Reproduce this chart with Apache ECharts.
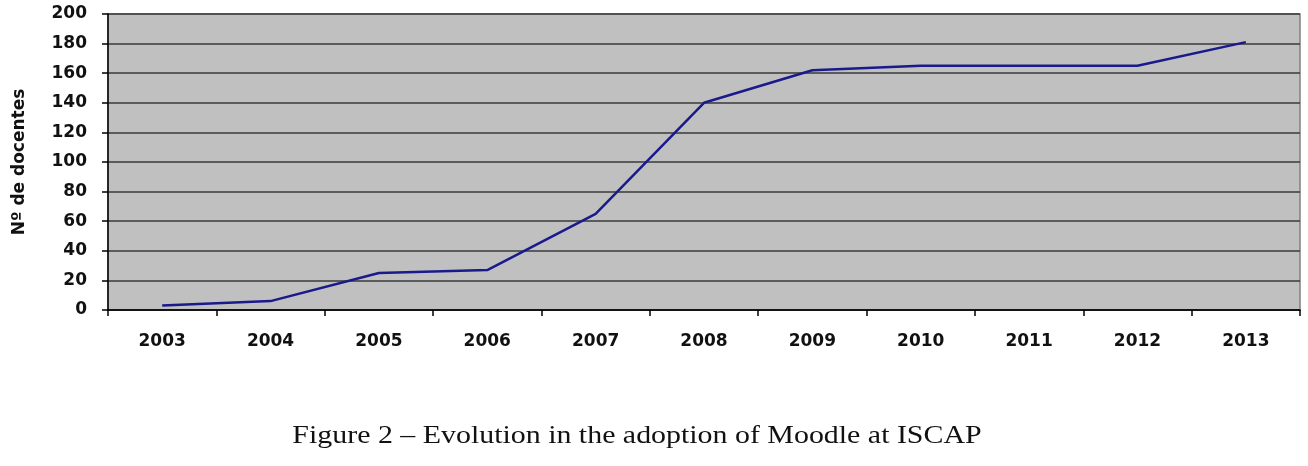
<!DOCTYPE html>
<html lang="en">
<head>
  <meta charset="UTF-8">
  <title>Evolution in the adoption of Moodle at ISCAP</title>
  <script src="https://cdn.jsdelivr.net/npm/echarts@6/dist/echarts.min.js"></script>
  <style>
    html, body { margin: 0; padding: 0; background: #fff; }
    #chart { width: 1308px; height: 466px; }
  </style>
</head>
<body>
<div id="chart"></div>
<script>
  // values
  let years = ['2003', '2004', '2005', '2006', '2007', '2008', '2009', '2010', '2011', '2012', '2013'];
  let docentes = [3, 6, 25, 27, 65, 140, 162, 165, 165, 165, 181];
  let caption = 'Figure 2 \u2013 Evolution in the adoption of Moodle at ISCAP';

  let chart = echarts.init(document.getElementById('chart'));
  chart.setOption({
    animation: false,
    // caption of the figure, slightly wide like the scanned original
    graphic: [{
      type: 'text',
      x: 637,
      y: 436,
      scaleX: 1.15,
      style: {
        text: caption,
        align: 'center',
        verticalAlign: 'middle',
        font: '26px "Liberation Serif"',
        fill: '#111'
      }
    }],
    grid: {
      left: 108,
      right: 8,
      top: 14,
      bottom: 156,
      show: true,
      backgroundColor: '#c0c0c0',
      borderColor: '#808080',
      borderWidth: 1.5
    },
    xAxis: {
      type: 'category',
      data: years,
      boundaryGap: true,
      axisLine: { lineStyle: { color: '#000', width: 1.5 } },
      axisTick: { show: true, length: 6, lineStyle: { color: '#000', width: 1.5 } },
      axisLabel: {
        margin: 23,
        fontFamily: 'DejaVu Sans',
        fontWeight: 'bold',
        fontSize: 17,
        color: '#111'
      },
      splitLine: { show: false }
    },
    yAxis: {
      type: 'value',
      min: 0,
      max: 200,
      interval: 20,
      name: 'N\u00ba de docentes',
      nameLocation: 'middle',
      nameRotate: 90,
      nameGap: 80,
      nameTextStyle: {
        fontFamily: 'DejaVu Sans',
        fontWeight: 'bold',
        fontSize: 17,
        color: '#111'
      },
      axisLine: { show: true, lineStyle: { color: '#000', width: 1.5 } },
      axisTick: { show: true, length: 6, lineStyle: { color: '#000', width: 1.5 } },
      axisLabel: {
        margin: 21,
        fontFamily: 'DejaVu Sans',
        fontWeight: 'bold',
        fontSize: 17,
        color: '#111'
      },
      splitLine: { show: true, lineStyle: { color: '#3a3a3a', width: 1.5 } }
    },
    series: [{
      type: 'line',
      data: docentes,
      symbol: 'none',
      lineStyle: { color: '#1a1a8c', width: 2.5 },
      z: 5
    }]
  });
</script>
</body>
</html>
